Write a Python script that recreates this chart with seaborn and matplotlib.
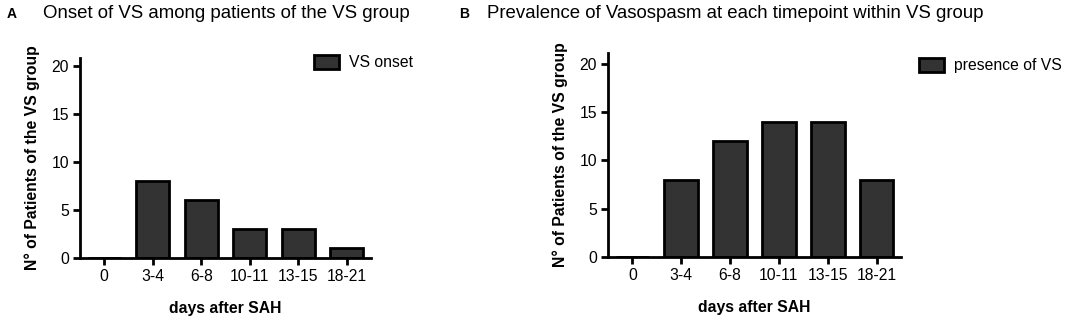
import pandas as pd
import matplotlib.pyplot as plt
import seaborn as sns

# data
days = ["0", "3-4", "6-8", "10-11", "13-15", "18-21"]
onset = [0, 8, 6, 3, 3, 1]
presence = [0, 8, 12, 14, 14, 8]

sns.set_style("ticks")
plt.rcParams["font.family"] = ["Liberation Sans", "DejaVu Sans"]
plt.rcParams.update({"text.color": "black", "axes.labelcolor": "black",
                     "xtick.color": "black", "ytick.color": "black",
                     "axes.edgecolor": "black"})

W, H = 1084, 316
fig = plt.figure(figsize=(W / 100, H / 100), dpi=100)

def px_axes(x0, y0, x1, y1):
    # pixel box (top-left origin) -> figure axes
    return fig.add_axes([x0 / W, 1 - y1 / H, (x1 - x0) / W, (y1 - y0) / H])

ax1 = px_axes(80, 58, 371, 258)
ax2 = px_axes(608, 53, 901, 257)

panels = [
    (ax1, onset, "VS onset", 20.8, (314, 55)),
    (ax2, presence, "presence of VS", 21.1, (919, 58)),
]

for ax, vals, lab, ytop, legpos in panels:
    df = pd.DataFrame({"days": days, "n": vals})
    sns.barplot(data=df, x="days", y="n", color="#333333", edgecolor="black",
                linewidth=2, width=0.69, saturation=1, label=lab, ax=ax)
    ax.set_xlim(-0.5, 5.5)
    ax.set_ylim(0, ytop)
    ax.set_yticks([0, 5, 10, 15, 20])
    sns.despine(ax=ax)
    for s in ["left", "bottom"]:
        ax.spines[s].set_linewidth(2)
    ax.tick_params(width=2, length=5, labelsize=11.3, colors="black", pad=3)
    ax.set_xlabel("days after SAH", fontsize=11.3, fontweight="bold", labelpad=12)
    ax.set_ylabel("N° of Patients of the VS group", fontsize=11.3, fontweight="bold", labelpad=8)
    ax.legend(loc="upper left", bbox_to_anchor=(legpos[0] / W, 1 - legpos[1] / H),
              bbox_transform=fig.transFigure, frameon=False, fontsize=11.3,
              handlelength=1.6, handleheight=1.0, handletextpad=0.6,
              borderpad=0, borderaxespad=0)

fig.text(7 / W, 1 - 18 / H, "A", fontsize=10, fontweight="bold", va="baseline")
fig.text(43 / W, 1 - 18 / H, "Onset of VS among patients of the VS group", fontsize=13.4, va="baseline")
fig.text(459 / W, 1 - 18 / H, "B", fontsize=10, fontweight="bold", va="baseline")
fig.text(487 / W, 1 - 18 / H, "Prevalence of Vasospasm at each timepoint within VS group", fontsize=13.4, va="baseline")

fig.savefig("out.png", dpi=100)
